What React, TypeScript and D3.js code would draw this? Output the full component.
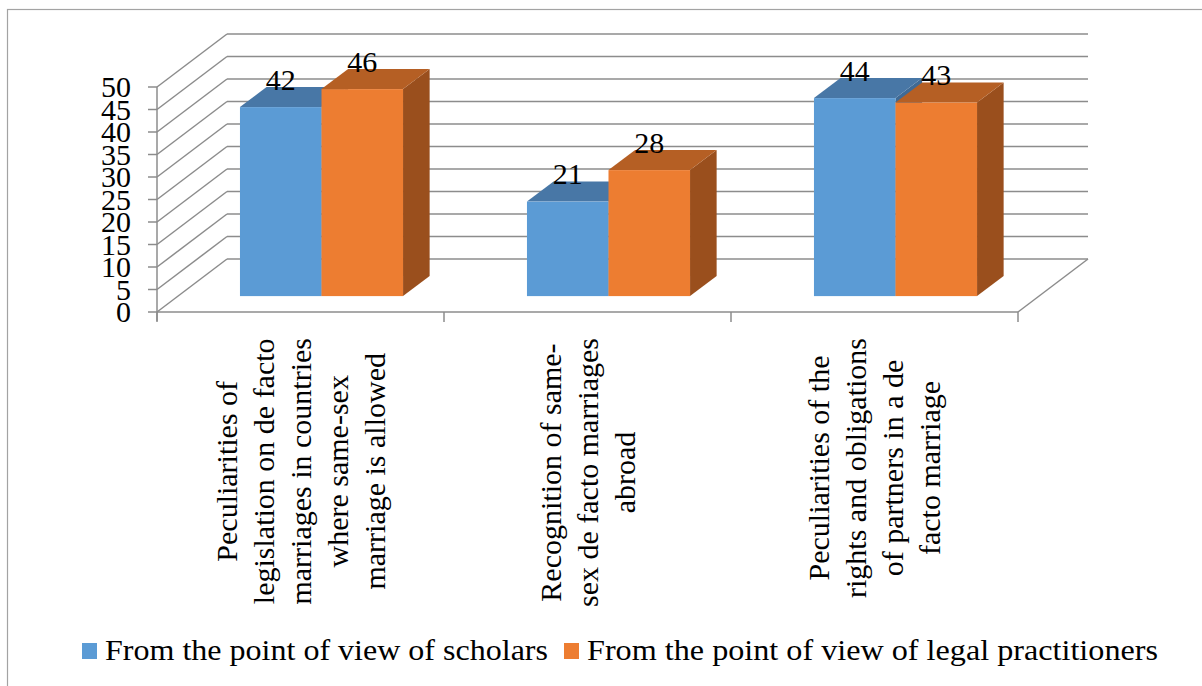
import React, { useMemo } from "react";
import * as d3 from "d3";

// Category labels, already broken into lines as they are printed under the axis
const categoryLines: string[][] = [
  [
    "Peculiarities of",
    "legislation on de facto",
    "marriages in countries",
    "where same-sex",
    "marriage is allowed",
  ],
  ["Recognition of same-", "sex de facto marriages", "abroad"],
  [
    "Peculiarities of the",
    "rights and obligations",
    "of partners in a de",
    "facto marriage",
  ],
];

const seriesNames = [
  "From the point of view of scholars",
  "From the point of view of legal practitioners",
];
const scholars = [42, 21, 44];
const practitioners = [46, 28, 43];
const yTickValues = [0, 5, 10, 15, 20, 25, 30, 35, 40, 45, 50];

const W = 1202;
const H = 686;
const FONT = '"Liberation Serif", Tinos, "Times New Roman", FreeSerif, monospace';

const palette = [
  { front: "#5b9bd5", top: "#4877a6", side: "#3f6a95" },
  { front: "#ed7d31", top: "#b55f24", side: "#9a4f1d" },
];

// plot geometry
const left = 157;
const right = 1018;
const base = 312;
const top = 87;
const depthX = 70;
const depthY = -53;
const frontDepth = 0.3;
const backDepth = 0.68;
const grid = "#8c8c8c";

const txt = (size: number): React.CSSProperties => ({ fontFamily: FONT, fontSize: `${size}px` });

function measure(text: string, size: number): number {
  const c = document.createElement("canvas").getContext("2d");
  if (!c) return text.length * size * 0.45;
  c.font = `${size}px ${FONT}`;
  return c.measureText(text).width;
}

const pts = (p: number[][]) => p.map((q) => q.join(",")).join(" ");

export default function App() {
  const x = d3
    .scaleBand<number>()
    .domain(d3.range(categoryLines.length))
    .range([left, right])
    .padding(0);
  const sub = d3
    .scaleBand<number>()
    .domain([0, 1])
    .range([0, x.bandwidth()])
    .paddingInner(0)
    .paddingOuter(0.76);
  const y = d3.scaleLinear().domain([0, 50]).range([base, top]);

  const ox1 = depthX * frontDepth;
  const oy1 = depthY * frontDepth;
  const ox2 = depthX * backDepth;
  const oy2 = depthY * backDepth;
  const series = [scholars, practitioners];
  const w = sub.bandwidth();

  const labelLengths = useMemo(
    () => categoryLines.map((lines) => d3.max(lines, (l) => measure(l, 30)) || 0),
    []
  );

  const lineStep = 37;
  const labelTop = base + 26;
  const legendWidths = [443, 571];
  const legendX: number[] = [];
  let lx = 82;
  seriesNames.forEach((_, s) => {
    legendX.push(lx);
    lx += 23 + legendWidths[s] + 16;
  });

  return (
    <svg
      width={W}
      height={H}
      style={{ position: "fixed", left: 0, top: 0, background: "#fff", fontFamily: FONT }}
    >
      {/* outer frame */}
      <rect x={7.5} y={9.5} width={1220} height={720} fill="none" stroke="#a3a3a3" strokeWidth={1.2} />

      {/* side wall, back wall and floor */}
      <g stroke={grid} strokeWidth={1.5} fill="none">
        {yTickValues.map((v) => (
          <g key={`g${v}`}>
            <line x1={left} y1={y(v)} x2={left + depthX} y2={y(v) + depthY} />
            <line x1={left + depthX} y1={y(v) + depthY} x2={right + depthX} y2={y(v) + depthY} />
            <line x1={left - 9} y1={y(v)} x2={left} y2={y(v)} />
          </g>
        ))}
        <line x1={left} y1={base} x2={right} y2={base} />
        <line x1={right} y1={base} x2={right + depthX} y2={base + depthY} />
        <line x1={left} y1={top} x2={left} y2={base + 9} />
        {d3.range(categoryLines.length + 1).map((i) => {
          const xx = left + i * x.bandwidth();
          return <line key={`t${i}`} x1={xx} y1={base} x2={xx} y2={base + 10} />;
        })}
      </g>

      {/* value axis labels */}
      {yTickValues.map((v) => (
        <text
          key={`y${v}`}
          x={131}
          y={y(v) + 10}
          textAnchor="end"
          fill="#000"
          style={txt(30)}
        >
          {v}
        </text>
      ))}

      {/* 3D bars */}
      {categoryLines.map((_, i) => (
        <g key={`c${i}`}>
          {series.map((vals, s) => {
            const v = vals[i];
            const xl = (x(i) as number) + (sub(s) as number);
            const yv = y(v);
            const col = palette[s];
            return (
              <g key={`b${s}`}>
                <polygon
                  points={pts([
                    [xl + w + ox1, yv + oy1],
                    [xl + w + ox2, yv + oy2],
                    [xl + w + ox2, base + oy2],
                    [xl + w + ox1, base + oy1],
                  ])}
                  fill={col.side}
                />
                <polygon
                  points={pts([
                    [xl + ox1, yv + oy1],
                    [xl + w + ox1, yv + oy1],
                    [xl + w + ox2, yv + oy2],
                    [xl + ox2, yv + oy2],
                  ])}
                  fill={col.top}
                />
                <rect x={xl + ox1} y={yv + oy1} width={w} height={base - yv} fill={col.front} />
              </g>
            );
          })}
        </g>
      ))}

      {/* value labels */}
      {categoryLines.map((_, i) =>
        series.map((vals, s) => {
          const v = vals[i];
          const xl = (x(i) as number) + (sub(s) as number);
          return (
            <text
              key={`l${i}-${s}`}
              x={xl + ox1 + w / 2}
              y={y(v) + oy2 + 3}
              textAnchor="middle"
              fill="#000"
              style={txt(30)}
            >
              {v}
            </text>
          );
        })
      )}

      {/* rotated category labels */}
      {categoryLines.map((lines, i) => {
        const cx = (x(i) as number) + x.bandwidth() / 2;
        const cy = labelTop + labelLengths[i] / 2;
        return lines.map((line, k) => {
          const tx = cx + (k - (lines.length - 1) / 2) * lineStep + 10;
          return (
            <text
              key={`cl${i}-${k}`}
              transform={`translate(${tx},${cy}) rotate(-90)`}
              textAnchor="middle"
              fill="#000"
              style={txt(30)}
            >
              {line}
            </text>
          );
        });
      })}

      {/* legend */}
      {seriesNames.map((name, s) => (
        <g key={`lg${s}`}>
          <rect x={legendX[s]} y={643} width={15} height={16} fill={palette[s].front} />
          <text
            x={legendX[s] + 23}
            y={660}
            fill="#000"
            style={txt(29)}
            textLength={legendWidths[s]}
            lengthAdjust="spacingAndGlyphs"
          >
            {name}
          </text>
        </g>
      ))}
    </svg>
  );
}
